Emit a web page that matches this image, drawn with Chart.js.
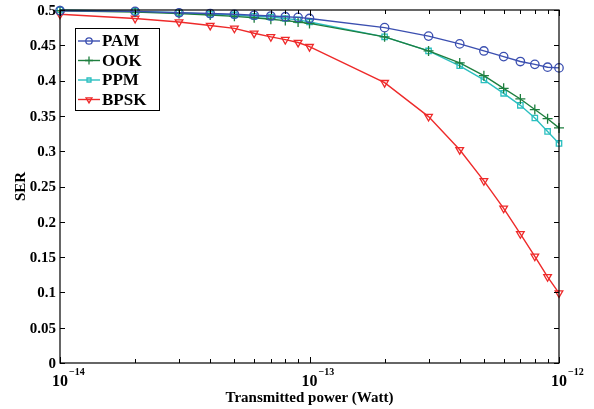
<!DOCTYPE html>
<html><head><meta charset="utf-8">
<script src="https://cdn.jsdelivr.net/npm/chart.js@4/dist/chart.umd.min.js"></script>
<style>html,body{margin:0;padding:0;background:#fff;}canvas{display:block;}</style>
</head><body>
<canvas id="c" width="594" height="409"></canvas>
<script>
const power = [1e-14,2e-14,3e-14,4e-14,5e-14,6e-14,7e-14,8e-14,9e-14,1e-13,
               2e-13,3e-13,4e-13,5e-13,6e-13,7e-13,8e-13,9e-13,1e-12];
const pam  = [0.499,0.498,0.496,0.495,0.494,0.4925,0.4915,0.4905,0.4895,0.488,
              0.475,0.463,0.452,0.442,0.434,0.427,0.423,0.419,0.418];
const ook  = [0.499,0.497,0.495,0.493,0.491,0.489,0.487,0.485,0.483,0.481,
              0.462,0.442,0.425,0.407,0.389,0.374,0.359,0.346,0.333];
const ppm  = [0.500,0.498,0.496,0.494,0.493,0.491,0.490,0.488,0.486,0.483,
              0.462,0.442,0.421,0.401,0.382,0.365,0.347,0.328,0.311];
const bpsk = [0.494,0.488,0.483,0.478,0.474,0.467,0.462,0.458,0.454,0.448,
              0.397,0.349,0.302,0.258,0.219,0.183,0.151,0.122,0.099];
const seriesNames = ['PAM','OOK','PPM','BPSK'];
const yTicks = [0,0.05,0.1,0.15,0.2,0.25,0.3,0.35,0.4,0.45,0.5];
const yTickLabels = ['0','0.05','0.1','0.15','0.2','0.25','0.3','0.35','0.4','0.45','0.5'];
const xDecades = [1e-14,1e-13,1e-12];
const xDecadeExp = ['\u221214','\u221213','\u221212'];
const xTitle = 'Transmitted power (Watt)';
const yTitle = 'SER';

const FONT = '"Liberation Serif", "Times New Roman", serif';
const colors = ['#3b4fb0','#1e7f3f','#2bbfc0','#ee2a2a'];
const styles = ['circle','cross','rect','triangle'];
const radii = [4.2,5,3.8,4.4];
const legendRadii = [3.2,4,2.8,3.4];
const rots = [0,0,0,180];
const values = [pam, ook, ppm, bpsk];

const datasets = values.map((v,i)=>({
  label: seriesNames[i],
  data: v.map((y,j)=>({x: power[j], y})),
  borderColor: colors[i],
  backgroundColor: 'rgba(0,0,0,0)',
  borderWidth: 1.4,
  pointStyle: styles[i],
  pointRadius: radii[i],
  pointRotation: rots[i],
  pointBorderWidth: 1.3,
  pointBorderColor: colors[i],
  pointBackgroundColor: 'rgba(255,255,255,0)',
  tension: 0,
  clip: false
}));

const decor = {
  id: 'decor',
  afterDraw(chart){
    const ctx = chart.ctx, a = chart.chartArea;
    const xs = chart.scales.x, ys = chart.scales.y;
    ctx.save();
    ctx.strokeStyle = '#000'; ctx.lineWidth = 1.2;
    ctx.strokeRect(a.left, a.top, a.right - a.left, a.bottom - a.top);
    ctx.lineWidth = 1;
    yTicks.forEach((t,i)=>{
      const y = Math.round(ys.getPixelForValue(t)) + 0.5;
      ctx.beginPath();
      ctx.moveTo(a.left, y); ctx.lineTo(a.left+5, y);
      ctx.moveTo(a.right, y); ctx.lineTo(a.right-5, y);
      ctx.stroke();
      ctx.fillStyle = '#000';
      ctx.font = 'bold 15px ' + FONT;
      ctx.textAlign = 'right'; ctx.textBaseline = 'middle';
      ctx.fillText(yTickLabels[i], a.left - 4, ys.getPixelForValue(t) + 1);
    });
    xDecades.forEach((d,k)=>{
      for (let m=1; m<=9; m++){
        const v = d*m;
        if (v > 1e-12*1.0001) break;
        const x = Math.round(xs.getPixelForValue(v)) + 0.5;
        const len = (m===1) ? 6 : 4;
        ctx.beginPath();
        ctx.moveTo(x, a.bottom); ctx.lineTo(x, a.bottom-len);
        ctx.moveTo(x, a.top); ctx.lineTo(x, a.top+len);
        ctx.stroke();
      }
      const x = xs.getPixelForValue(d);
      ctx.font = 'bold 16px ' + FONT;
      ctx.textAlign = 'right'; ctx.textBaseline = 'alphabetic';
      ctx.fillText('10', x + 8, a.bottom + 23);
      ctx.font = 'bold 10px ' + FONT;
      ctx.textAlign = 'left';
      ctx.fillText(xDecadeExp[k], x + 9, a.bottom + 12);
    });
    ctx.font = 'bold 15px ' + FONT;
    ctx.textAlign = 'center'; ctx.textBaseline = 'alphabetic';
    ctx.fillText(xTitle, (a.left + a.right)/2, a.bottom + 39);
    ctx.save();
    ctx.translate(25, (a.top + a.bottom)/2);
    ctx.rotate(-Math.PI/2);
    ctx.fillText(yTitle, 0, 0);
    ctx.restore();
    const bx = 75, by = 28, bw = 84, bh = 82;
    ctx.fillStyle = '#fff';
    ctx.fillRect(bx, by, bw, bh);
    ctx.strokeStyle = '#000'; ctx.lineWidth = 1;
    ctx.strokeRect(bx+0.5, by+0.5, bw, bh);
    chart.data.datasets.forEach((ds,i)=>{
      const y = by + 13 + i*19.5;
      ctx.strokeStyle = ds.borderColor; ctx.lineWidth = 1.4;
      ctx.beginPath(); ctx.moveTo(bx+3, y); ctx.lineTo(bx+25, y); ctx.stroke();
      ctx.lineWidth = 1.3;
      ctx.fillStyle = 'rgba(255,255,255,0)';
      Chart.helpers.drawPoint(ctx, {pointStyle: ds.pointStyle, radius: legendRadii[i], rotation: ds.pointRotation, borderWidth: 1.3}, bx+14, y);
      ctx.fillStyle = '#000';
      ctx.font = 'bold 17px ' + FONT;
      ctx.textAlign = 'left'; ctx.textBaseline = 'middle';
      ctx.fillText(ds.label, bx+27, y+1);
    });
    ctx.restore();
  }
};

new Chart(document.getElementById('c'), {
  type: 'line',
  data: { datasets },
  options: {
    responsive: false,
    animation: false,
    layout: { padding: { left: 60, top: 10, right: 35, bottom: 46 } },
    plugins: { legend: { display: false }, tooltip: { enabled: false } },
    scales: {
      x: { type: 'logarithmic', min: 1e-14, max: 1e-12, display: false },
      y: { type: 'linear', min: 0, max: 0.5, display: false }
    }
  },
  plugins: [decor]
});
</script>
</body></html>
